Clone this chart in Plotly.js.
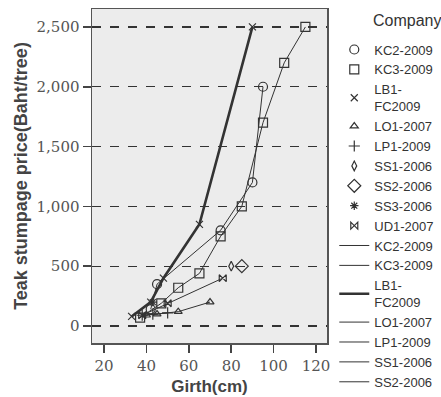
<!DOCTYPE html>
<html>
<head>
<meta charset="utf-8">
<script src="https://cdn.plot.ly/plotly-3.0.1.min.js"></script>
<style>html,body{margin:0;padding:0;background:#fff;overflow:hidden;}#chart{width:441px;height:397px;}</style>
</head>
<body>
<div id="chart"></div>
<script>
// Data
const companies = ["KC2-2009","KC3-2009","LB1-<br>FC2009","LO1-2007","LP1-2009","SS1-2006","SS2-2006","SS3-2006","UD1-2007"];
const kc2_x = [42, 45, 75, 90, 95];
const kc2_y = [140, 350, 800, 1200, 2000];
const kc3_x = [37, 47, 55, 65, 75, 85, 95, 105, 115];
const kc3_y = [70, 190, 320, 440, 750, 1000, 1700, 2200, 2500];
const lb1_x = [33, 42, 48, 65, 90];
const lb1_y = [80, 200, 400, 850, 2500];
const lo1_x = [40, 45, 55, 70];
const lo1_y = [90, 100, 120, 200];
const lp1_x = [38, 43, 50];
const lp1_y = [90, 100, 110];
const ss1_x = [80];
const ss1_y = [500];
const ss2_x = [85];
const ss2_y = [500];
const ss3_x = [43];
const ss3_y = [200];
const ud1_x = [38, 50, 76];
const ud1_y = [90, 190, 400];
const xTicks = [20, 40, 60, 80, 100, 120];
const yTicks = [0, 500, 1000, 1500, 2000, 2500];

const xs = [kc2_x, kc3_x, lb1_x, lo1_x, lp1_x, ss1_x, ss2_x, ss3_x, ud1_x];
const ys = [kc2_y, kc3_y, lb1_y, lo1_y, lp1_y, ss1_y, ss2_y, ss3_y, ud1_y];
const symbols = ["circle-open","square-open","x-thin-open","triangle-up-open","cross-thin-open","diamond-tall-open","diamond-open","asterisk-open","bowtie-open"];
const sizes = [9, 9, 7, 7, 8, 7, 10, 7, 7];
const widths = [1, 1, 2.6, 1, 1, 1, 1, 1, 1];
const lineLegend = [true, true, true, true, true, true, true, false, false];

const traces = [];
for (let i = 0; i < companies.length; i++) {
  traces.push({
    x: xs[i], y: ys[i], name: companies[i], mode: "markers", type: "scatter",
    marker: {symbol: symbols[i], size: sizes[i], color: "#333", line: {width: 1.2, color: "#333"}},
    legendrank: i + 1, cliponaxis: false
  });
}
for (let i = 0; i < companies.length; i++) {
  traces.push({
    x: xs[i], y: ys[i], name: companies[i], mode: "lines", type: "scatter",
    line: {color: "#333", width: widths[i]},
    showlegend: lineLegend[i], legendrank: 20 + i
  });
}

const layout = {
  width: 441, height: 397,
  margin: {l: 92, r: 114, t: 9, b: 54, autoexpand: false},
  paper_bgcolor: "#ffffff",
  plot_bgcolor: "#ececec",
  showlegend: true,
  legend: {
    xref: "container", yref: "container",
    x: 0.758, xanchor: "left", y: 0.913, yanchor: "top",
    font: {family: "Liberation Sans, Arial, sans-serif", size: 13, color: "#333"},
    tracegroupgap: 0, itemwidth: 30, bgcolor: "rgba(0,0,0,0)", maxheight: 1000
  },
  annotations: [{
    text: "Company", xref: "paper", yref: "paper", x: 1.34, y: 1.0, xanchor: "center", yanchor: "middle",
    yshift: -11, showarrow: false,
    font: {family: "Liberation Sans, Arial, sans-serif", size: 16, color: "#333"}
  }],
  xaxis: {
    automargin: false,
    range: [14.3, 125.2], tickvals: xTicks, ticks: "outside", ticklen: 8, tickwidth: 1.5, tickcolor: "#444",
    showgrid: false, zeroline: false, showline: true, mirror: true, linecolor: "#555", linewidth: 1.5,
    tickfont: {family: "DejaVu Serif, Liberation Serif, serif", size: 15, color: "#555"},
    title: {text: "Girth(cm)", font: {family: "Liberation Sans, Arial, sans-serif", size: 17, color: "#444", weight: "bold"}, standoff: 6}
  },
  yaxis: {
    automargin: false,
    range: [-142, 2650], tickvals: yTicks, tickformat: ",d", ticks: "outside", ticklen: 8, tickwidth: 1.5, tickcolor: "#444",
    showgrid: true, gridcolor: "#333", griddash: "dash", gridwidth: 1.2,
    zeroline: false, showline: true, mirror: true, linecolor: "#555", linewidth: 1.5,
    tickfont: {family: "DejaVu Serif, Liberation Serif, serif", size: 15, color: "#555"},
    title: {text: "Teak stumpage price(Baht/tree)", font: {family: "Liberation Sans, Arial, sans-serif", size: 18, color: "#444", weight: "bold"}, standoff: 4}
  }
};

Plotly.newPlot("chart", traces, layout, {staticPlot: true, displayModeBar: false});
</script>
</body>
</html>
